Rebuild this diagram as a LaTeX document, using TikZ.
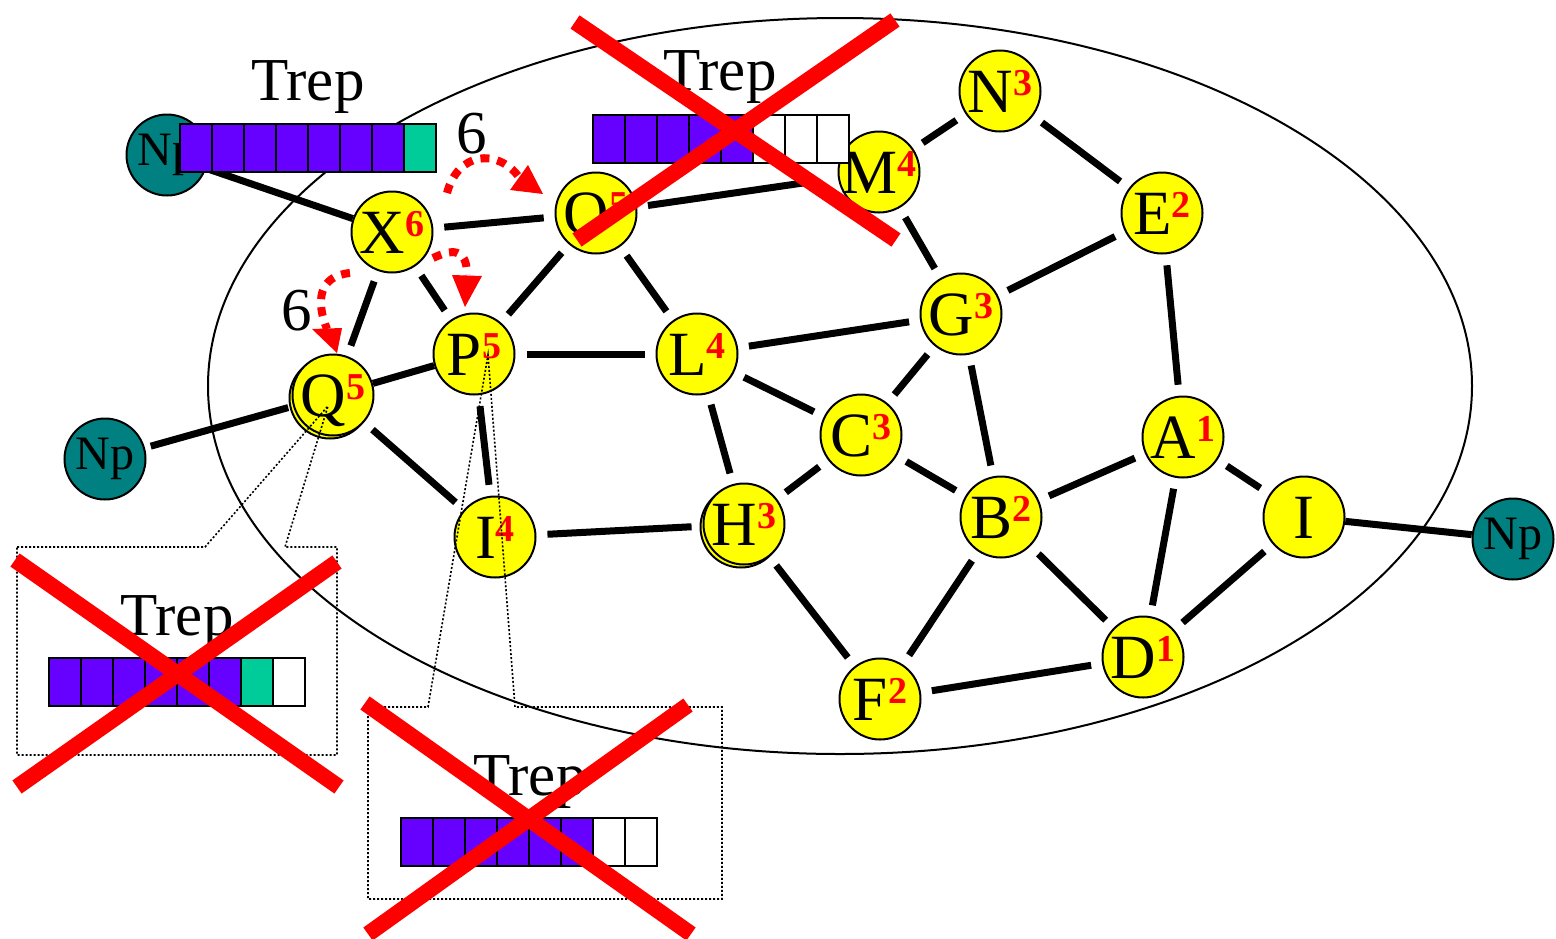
\documentclass[tikz,border=0pt]{standalone}
\usepackage{fontspec}
\setmainfont{Liberation Serif}
\usetikzlibrary{arrows.meta}
\definecolor{vyellow}{HTML}{FFFF00}
\definecolor{npteal}{HTML}{008080}
\definecolor{cpurple}{HTML}{6600FF}
\definecolor{cgreen}{HTML}{00CC99}
\definecolor{xred}{HTML}{FF0000}
\newcommand\supnum[1]{\raisebox{17pt}{\textcolor{xred}{\fontsize{38}{38}\selectfont\bfseries #1}}}
\newcommand\vertexnode[5]{%
  \node[vtx] (#1) at (#2,#3) {};
  \node[vlabel] (#1t) at ([yshift=-21pt]#1.center) {#4\supnum{#5}};}
\newcommand\trepbar[3]{%
  \foreach \cc [count=\ii from 0] in {#3} {
    \draw[cell, fill=\cc] (#1+32*\ii,#2) rectangle ++(32,48);
  }}
\begin{document}
\begin{tikzpicture}[x=1pt,y=-1pt,
  vtx/.style={circle,draw=black,line width=2pt,fill=vyellow,minimum size=81pt,inner sep=0pt},
  vshadow/.style={circle,draw=black,line width=2pt,fill=vyellow,minimum size=81pt,inner sep=0pt},
  npnode/.style={circle,draw=black,line width=2pt,fill=npteal,minimum size=81pt,inner sep=0pt,font=\fontsize{48}{48}\selectfont},
  vlabel/.style={anchor=base,inner sep=0pt,font=\fontsize{63}{63}\selectfont},
  bigtext/.style={anchor=base,inner sep=0pt,font=\fontsize{61}{61}\selectfont},
  edge/.style={line width=7pt,shorten <=11pt,shorten >=11pt},
  nogap/.style={shorten <=0pt,shorten >=0pt},
  cell/.style={draw=black,line width=2.5pt},
  crossline/.style={draw=xred,line width=16pt},
  callout/.style={draw=black,line width=1.6pt,dash pattern=on 2pt off 2pt},
  reddots/.style={draw=xred,line width=8pt,dash pattern=on 9pt off 8pt},
  redhead/.style={fill=xred},
  ring/.style={draw=black,line width=2pt}
]
\useasboundingbox (0,0) rectangle (1556,938);
\fill[white] (0,0) rectangle (1556,938);

% big ellipse
\draw[ring] (840,386) ellipse [x radius=632pt, y radius=368pt];

% shadow circles (double outline on H and Q)
\node[vshadow] (Hs) at (741,527) {};
\node[vshadow] (Qs) at (330,398) {};

% vertices
\vertexnode{X}{392}{232}{X}{6}
\vertexnode{O}{596}{213}{O}{5}
\vertexnode{M}{879}{172}{M}{4}
\vertexnode{N}{1000}{91}{N}{3}
\vertexnode{E}{1162}{213}{E}{2}
\vertexnode{G}{961}{314}{G}{3}
\vertexnode{P}{474}{354}{P}{5}
\vertexnode{L}{697}{354}{L}{4}
\vertexnode{Q}{333}{395}{Q}{5}
\vertexnode{C}{861}{435}{C}{3}
\vertexnode{A}{1183}{437}{A}{1}
\vertexnode{IV}{495}{537}{I}{4}
\vertexnode{H}{744}{524}{H}{3}
\vertexnode{B}{1001}{517}{B}{2}
\vertexnode{IR}{1304}{517}{I}{}
\vertexnode{D}{1143}{657}{D}{1}
\vertexnode{F}{880}{699}{F}{2}

\node[npnode] (NpA) at (167,155) {Np};
\node[npnode] (NpB) at (105,459) {Np};
\node[npnode] (NpC) at (1513,539) {Np};

% edges
\draw[edge,nogap] (NpA) -- (X);
\draw[edge] (X) -- (O);
\draw[edge,shorten >=26pt] (O) -- (M);
\draw[edge] (M) -- (N);
\draw[edge] (N) -- (E);
\draw[edge] (M) -- (G);
\draw[edge] (E) -- (G);
\draw[edge] (E) -- (A);
\draw[edge] (X) -- (Q);
\draw[edge] (X) -- (P);
\draw[edge] (O) -- (P);
\draw[edge] (O) -- (L);
\draw[edge] (P) -- (L);
\draw[edge] (L) -- (G);
\draw[edge] (G) -- (C);
\draw[edge] (G) -- (B);
\draw[edge] (L) -- (C);
\draw[edge] (L) -- (H);
\draw[edge] (C) -- (H);
\draw[edge] (C) -- (B);
\draw[edge] (B) -- (A);
\draw[edge] (A) -- (D);
\draw[edge] (A) -- (IR);
\draw[edge] (IR) -- (D);
\draw[edge] (B) -- (D);
\draw[edge] (B) -- (F);
\draw[edge] (F) -- (D);
\draw[edge] (H) -- (F);
\draw[edge] (H) -- (IV);
\draw[edge] (Q) -- (IV);
\draw[edge,nogap] (Q) -- (P);
\draw[edge] (P) -- (IV);
\draw[edge,shorten <=5pt,shorten >=6pt] (Q) -- (NpB);
\draw[edge,nogap] (IR) -- (NpC);

% top-left Trep bar (over the Np node)
\trepbar{180}{124}{cpurple,cpurple,cpurple,cpurple,cpurple,cpurple,cpurple,cgreen}
\node[bigtext] (trepA) at (308,100) {Trep};

% red dotted arrows
\coordinate (a1s) at (447,193);
\coordinate (a1b) at (519,177);
\coordinate (a2s) at (433,258);
\coordinate (a2b) at (467,275);
\coordinate (a3s) at (350,273);
\coordinate (a3b) at (327,329);
\draw[reddots] (a1s) .. controls (458,152) and (497,148) .. (a1b);
\fill[redhead] (510,190) -- (528,165) -- (543,194) -- cycle;
\draw[reddots] (a2s) .. controls (450,250) and (467,246) .. (a2b);
\fill[redhead] (452,275) -- (482,276) -- (465,307) -- cycle;
\draw[reddots] (a3s) .. controls (318,276) and (316,302) .. (a3b);
\fill[redhead] (312,329) -- (342,328) -- (337,353) -- cycle;
\node[bigtext] (six1) at (472,153) {6};
\node[bigtext] (six2) at (297,330) {6};

% callouts
\coordinate (Qtip) at (328,406);
\coordinate (Ptip) at (488,355);
\draw[callout] (17,547) -- (205,547) -- (Qtip) -- (285,547) -- (337,547) -- (337,755) -- (17,755) -- cycle;
\draw[callout] (368,707) -- (428,707) -- (Ptip) -- (515,707) -- (722,707) -- (722,899) -- (368,899) -- cycle;

% other Trep bars
\trepbar{593}{115}{cpurple,cpurple,cpurple,cpurple,cpurple,white,white,white}
\node[bigtext] (trepB) at (720,90) {Trep};
\trepbar{49}{658}{cpurple,cpurple,cpurple,cpurple,cpurple,cpurple,cgreen,white}
\node[bigtext] (trepC) at (177,635) {Trep};
\trepbar{401}{818}{cpurple,cpurple,cpurple,cpurple,cpurple,cpurple,white,white}
\node[bigtext] (trepD) at (530,795) {Trep};

% red crosses
\draw[crossline] (575,22) -- (896,240) (895,20) -- (577,240);
\draw[crossline] (15,560) -- (339,787) (337,562) -- (17,787);
\draw[crossline] (365,703) -- (691,934) (688,705) -- (368,934);
\end{tikzpicture}
\end{document}
